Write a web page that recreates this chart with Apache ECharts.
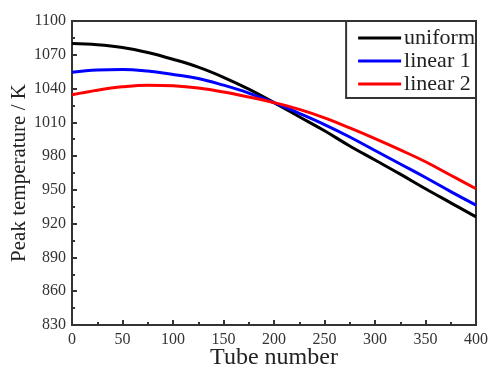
<!DOCTYPE html>
<html>
<head>
<meta charset="utf-8">
<script src="https://cdn.jsdelivr.net/npm/echarts@6/dist/echarts.min.js"></script>
<style>
  html, body { margin: 0; padding: 0; background: #fff; }
  #chart { width: 490px; height: 370px; }
</style>
</head>
<body>
<div id="chart"></div>
<script>
// tube positions along the x axis
const tubes = [0, 25, 50, 75, 100, 125, 150, 175, 200, 225, 250, 275, 300, 325, 350, 375, 400];

// peak temperature (K)
const uniform = [1080, 1079, 1076.5, 1072, 1066, 1059, 1050, 1039.5, 1027.5, 1015, 1002.5, 989, 976.5, 964, 951, 938.5, 926];
const linear1 = [1054.5, 1056.5, 1057, 1055.5, 1052.5, 1049, 1043, 1036, 1027.5, 1018, 1008, 997, 985, 973, 961, 948.5, 936.5];
const linear2 = [1034.5, 1038.5, 1041.5, 1043, 1042.5, 1040.5, 1037, 1032.5, 1027.5, 1021.5, 1014, 1005, 995.5, 985.5, 975, 963, 951];

const pairs = (ys) => tubes.map((x, i) => [x, ys[i]]);

const font = 'Liberation Serif, Times New Roman, serif';
const chart = echarts.init(document.getElementById('chart'));

chart.setOption({
  animation: false,
  grid: {
    left: 72, right: 14, top: 21, bottom: 45,
    outerBoundsMode: 'none',
    show: true, borderColor: '#333', borderWidth: 2
  },
  legend: {
    orient: 'vertical',
    right: 14, top: 21,
    icon: 'rect',
    itemWidth: 43, itemHeight: 3,
    itemGap: 1,
    padding: [6, 1, 3, 12],
    borderColor: '#333', borderWidth: 2,
    textStyle: { fontFamily: font, fontSize: 22, color: '#222', padding: [0, 0, 0, -2] },
    data: ['uniform', 'linear 1', 'linear 2']
  },
  xAxis: {
    type: 'value',
    min: 0, max: 400, interval: 50,
    name: 'Tube number',
    nameLocation: 'middle',
    nameGap: 21,
    nameMoveOverlap: false,
    nameTextStyle: { fontFamily: font, fontSize: 24, color: '#222' },
    axisLine: { lineStyle: { color: '#333', width: 2 } },
    axisTick: { inside: true, length: 5, lineStyle: { color: '#333', width: 2 } },
    minorTick: { show: true, splitNumber: 2, length: 3, lineStyle: { color: '#333', width: 2 } },
    axisLabel: { fontFamily: font, fontSize: 16, color: '#333', margin: 7, formatter: (v) => String(v) },
    splitLine: { show: false }
  },
  yAxis: {
    type: 'value',
    min: 830, max: 1100, interval: 30,
    name: 'Peak temperature / K',
    nameLocation: 'middle',
    nameGap: 42,
    nameMoveOverlap: false,
    nameTextStyle: { fontFamily: font, fontSize: 21, color: '#222' },
    axisLine: { show: true, lineStyle: { color: '#333', width: 2 } },
    axisTick: { show: true, inside: true, length: 5, lineStyle: { color: '#333', width: 2 } },
    minorTick: { show: true, splitNumber: 2, length: 3, lineStyle: { color: '#333', width: 2 } },
    axisLabel: { fontFamily: font, fontSize: 16, color: '#333', margin: 6, formatter: (v) => String(v) },
    splitLine: { show: false }
  },
  series: [
    { name: 'uniform', type: 'line', data: pairs(uniform), smooth: 0.4, showSymbol: false,
      color: '#000', lineStyle: { width: 3 } },
    { name: 'linear 1', type: 'line', data: pairs(linear1), smooth: 0.4, showSymbol: false,
      color: '#0000ff', lineStyle: { width: 3 } },
    { name: 'linear 2', type: 'line', data: pairs(linear2), smooth: 0.4, showSymbol: false,
      color: '#ff0000', lineStyle: { width: 3 } }
  ]
});
</script>
</body>
</html>
